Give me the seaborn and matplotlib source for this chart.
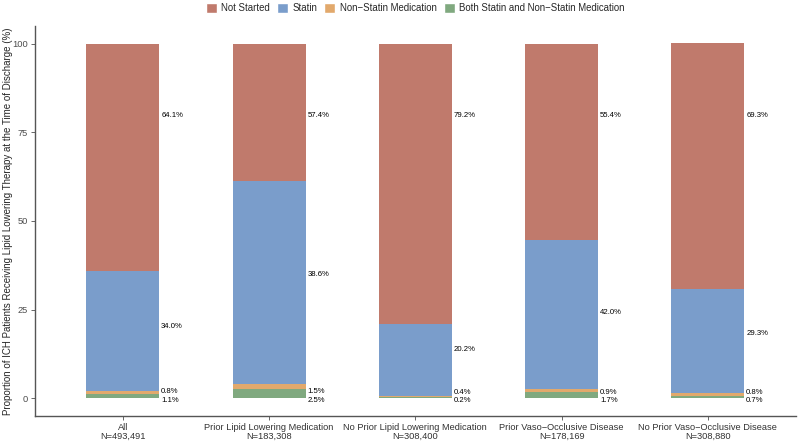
import numpy as np
import pandas as pd
import seaborn as sns
import matplotlib
matplotlib.use("Agg")
import matplotlib.pyplot as plt
from matplotlib.patches import Patch

groups = [
    "All\nN=493,491",
    "Prior Lipid Lowering Medication\nN=183,308",
    "No Prior Lipid Lowering Medication\nN=308,400",
    "Prior Vaso\u2212Occlusive Disease\nN=178,169",
    "No Prior Vaso\u2212Occlusive Disease\nN=308,880",
]
# segment heights as drawn
not_started = [64.1, 38.6, 79.2, 55.4, 69.3]
statin = [34.0, 57.4, 20.2, 42.0, 29.3]
non_statin = [0.8, 1.5, 0.4, 0.9, 0.8]
both = [1.1, 2.5, 0.2, 1.7, 0.7]

# label texts as printed next to each bar
txt_not_started = ["64.1%", "57.4%", "79.2%", "55.4%", "69.3%"]
txt_statin = ["34.0%", "38.6%", "20.2%", "42.0%", "29.3%"]
txt_non_statin = ["0.8%", "1.5%", "0.4%", "0.9%", "0.8%"]
txt_both = ["1.1%", "2.5%", "0.2%", "1.7%", "0.7%"]

# label heights (repelled in the original)
lab_not_started = [79.7, 79.7, 79.7, 79.7, 79.7]
lab_statin = [20.1, 35.0, 13.8, 24.3, 18.1]
lab_non_statin = [1.8, 1.8, 1.5, 1.7, 1.7]
lab_both = [-0.6, -0.6, -0.8, -0.6, -0.6]

series = [
    ("Both Statin and Non\u2212Statin Medication", both, "#80a97f", lab_both, txt_both),
    ("Non\u2212Statin Medication", non_statin, "#e2a96c", lab_non_statin, txt_non_statin),
    ("Statin", statin, "#7a9dcb", lab_statin, txt_statin),
    ("Not Started", not_started, "#c07a6c", lab_not_started, txt_not_started),
]

sns.set_style("white")
plt.rcParams["font.family"] = ["Liberation Sans", "DejaVu Sans"]

fig, ax = plt.subplots(figsize=(7.98, 4.41), dpi=100)
fig.subplots_adjust(left=0.044, right=0.997, bottom=0.057, top=0.941)

bottom = np.zeros(len(groups))
for name, vals, color, labs, txts in series:
    df = pd.DataFrame({"group": groups, "value": vals})
    sns.barplot(data=df, x="group", y="value", color=color, width=0.5,
                bottom=bottom, saturation=1, ax=ax, linewidth=0)
    for i, (t, ly) in enumerate(zip(txts, labs)):
        ax.text(i + 0.262, ly, t, fontsize=5.6, va="center",
                ha="left", color="black")
    bottom = bottom + np.array(vals)

ax.set_xlim(-0.6, 4.6)
ax.set_ylim(-5, 105)
ax.set_yticks([0, 25, 50, 75, 100])
ax.set_xlabel("")
ax.set_ylabel("Proportion of ICH Patients Receiving Lipid Lowering Therapy at the Time of Discharge (%)",
              fontsize=7.0)
ax.yaxis.set_label_coords(-0.029, 0.5)
ax.tick_params(axis="both", labelsize=6.7, colors="#4d4d4d", length=3,
               width=0.6, direction="out", left=True, bottom=True, pad=2)
for lab in ax.get_xticklabels():
    lab.set_color("#333333")
    lab.set_linespacing(1.0)
for lab in ax.get_yticklabels():
    lab.set_color("#4d4d4d")
for side in ["top", "right"]:
    ax.spines[side].set_visible(False)
for side in ["left", "bottom"]:
    ax.spines[side].set_color("#555555")
    ax.spines[side].set_linewidth(1.0)

handles = [Patch(facecolor=s[2], label=s[0]) for s in series[::-1]]
fig.legend(handles=handles, loc="upper center", ncol=4, frameon=False,
           bbox_to_anchor=(0.52, 1.012), fontsize=6.9, handlelength=1.15,
           handleheight=1.1, columnspacing=0.75, handletextpad=0.45)

fig.savefig("out.png", dpi=100)
